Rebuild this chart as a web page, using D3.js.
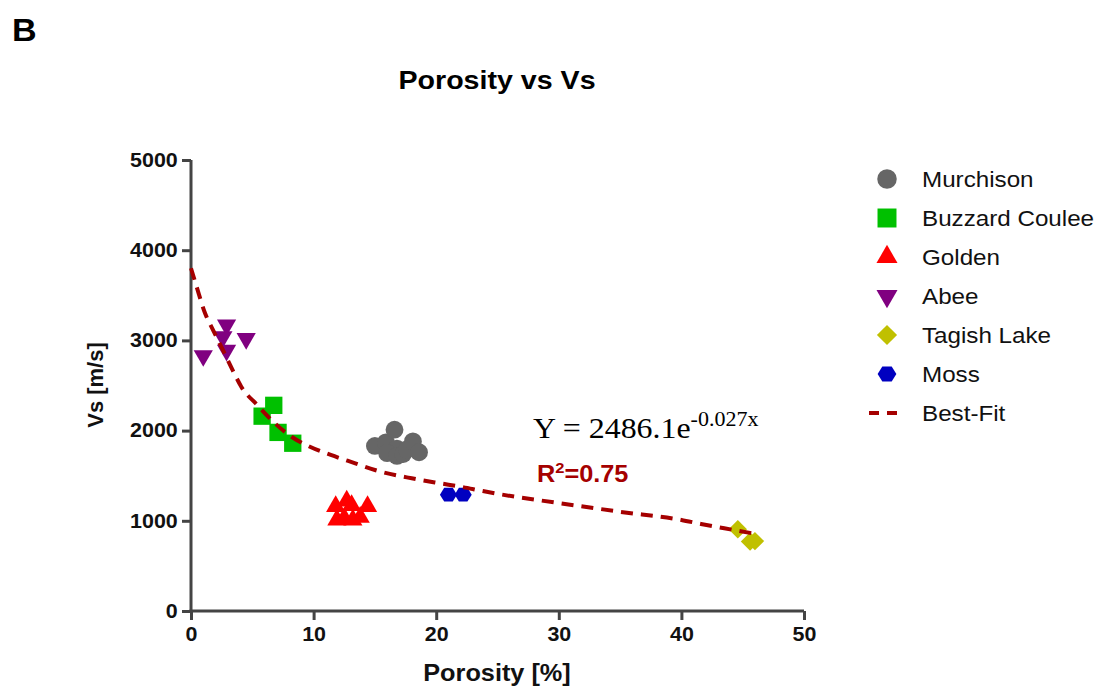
<!DOCTYPE html>
<html>
<head>
<meta charset="utf-8">
<title>Porosity vs Vs</title>
<script src="https://d3js.org/d3.v7.min.js"></script>
<style>
body { margin: 0; background: #fff; }
svg text { font-family: "Liberation Sans", Arial, sans-serif; }
</style>
</head>
<body>
<div id="chart"></div>
<script>
// data: [porosity %, Vs m/s]
var murchison = [[15.0,1830],[15.9,1870],[16.6,2010],[16.8,1800],[16.0,1750],[16.8,1720],[17.3,1740],[17.6,1790],[18.1,1880],[18.6,1760]];
var buzzard = [[5.8,2160],[6.75,2280],[7.1,1980],[8.3,1860]];
var golden = [[11.8,1160],[12.7,1220],[13.1,1170],[14.4,1160],[11.9,1010],[12.5,1030],[13.2,1010],[13.8,1040]];
var abee = [[1.0,2830],[2.6,3040],[2.9,3170],[2.9,2890],[4.5,3020]];
var tagish = [[44.6,906],[45.6,770],[46.0,775]];
var moss = [[21.0,1290],[22.2,1290]];
// dashed best-fit line
var bestFit = [[0,3800],[0.46,3595],[1.14,3304],[1.8,3115],[2.6,2894],[3.46,2653],[4.1,2487],[5.4,2284],[6.7,2099],[8.2,1932],[9.7,1821],[11.4,1730],[13.4,1637],[15.0,1563],[18.0,1471],[20.3,1416],[22.0,1378],[23.8,1330],[25.1,1297],[30,1197],[35,1100],[40,1009],[41.6,965],[43.5,917],[45.8,861]];

var xTicks = [0,10,20,30,40,50];
var yTicks = [0,1000,2000,3000,4000,5000];
var seriesNames = ["Murchison","Buzzard Coulee","Golden","Abee","Tagish Lake","Moss"];

var width = 1102, height = 689;
var stretch = 1.1; // text in the picture is a bit wider than Arial
var svg = d3.select("#chart").append("svg")
    .attr("width", width)
    .attr("height", height);

var x = d3.scaleLinear().domain([0,50]).range([191, 804]);
var y = d3.scaleLinear().domain([0,5000]).range([611, 160]);

function stext(px, py, size, bold) {
  return svg.append("text")
    .attr("transform", "translate(" + px + "," + py + ") scale(" + stretch + ",1)")
    .style("font-size", size + "px")
    .style("font-weight", bold ? "bold" : "normal")
    .attr("fill", "#111");
}

// hexagon with points left and right
var hexagon = {
  draw: function(ctx, size) {
    var r = Math.sqrt(size / (1.5 * Math.sqrt(3)));
    for (var i = 0; i < 6; i++) {
      var a = Math.PI / 3 * i;
      var px = r * Math.cos(a), py = r * Math.sin(a) * 0.92;
      if (i == 0) ctx.moveTo(px, py); else ctx.lineTo(px, py);
    }
    ctx.closePath();
  }
};

var styles = [
  {data: murchison, color: "#666666", type: d3.symbolCircle, size: 250, rot: 0},
  {data: buzzard, color: "#00c000", type: d3.symbolSquare, size: 300, rot: 0},
  {data: golden, color: "#ff0000", type: d3.symbolTriangle, size: 160, rot: 0},
  {data: abee, color: "#800080", type: d3.symbolTriangle, size: 160, rot: 180},
  {data: tagish, color: "#c0c000", type: d3.symbolSquare, size: 170, rot: 45},
  {data: moss, color: "#0000c0", type: hexagon, size: 190, rot: 0}
];

// title and panel letter
stext(12, 41, 31, true).attr("fill", "#000").text("B");
stext(497, 89, 26, true).attr("fill", "#000").attr("text-anchor", "middle").text("Porosity vs Vs");

// axes
var xAxis = svg.append("g")
  .attr("transform", "translate(0,611)")
  .call(d3.axisBottom(x).tickValues(xTicks).tickFormat(d3.format("d")).tickSize(9).tickPadding(7).tickSizeOuter(0));
var yAxis = svg.append("g")
  .attr("transform", "translate(191,0)")
  .call(d3.axisLeft(y).tickValues(yTicks).tickFormat(d3.format("d")).tickSize(9).tickPadding(3).tickSizeOuter(0));

[xAxis, yAxis].forEach(function(g) {
  g.selectAll("path, line").attr("stroke", "#444").attr("stroke-width", 3);
  g.selectAll("text").attr("fill", "#111")
    .attr("transform", "scale(" + stretch + ",1)")
    .style("font-size", "19.5px").style("font-weight", "bold")
    .style("font-family", "'Liberation Sans', Arial, sans-serif");
});
xAxis.select(".domain").attr("d", "M" + (x(0) - 1.5) + ",0H" + x(50));
yAxis.select(".domain").attr("d", "M0," + y(5000) + "V" + (y(0) + 1.5));

stext(497, 681, 23, true).attr("text-anchor", "middle").text("Porosity [%]");
svg.append("text").attr("text-anchor", "middle")
  .attr("transform", "translate(103,385)rotate(-90)")
  .attr("fill", "#111")
  .style("font-size", "22px").style("font-weight", "bold").text("Vs [m/s]");

// points
styles.forEach(function(s) {
  svg.append("g").selectAll("path")
    .data(s.data)
    .enter()
    .append("path")
      .attr("d", d3.symbol().type(s.type).size(s.size))
      .attr("transform", function(d) {
        return "translate(" + x(d[0]) + "," + y(d[1]) + ") rotate(" + s.rot + ")";
      })
      .attr("fill", s.color);
});

// best-fit curve
var line = d3.line()
  .x(function(d) { return x(d[0]); })
  .y(function(d) { return y(d[1]); })
  .curve(d3.curveMonotoneX);
svg.append("path")
  .datum(bestFit)
  .attr("d", line)
  .attr("fill", "none")
  .attr("stroke", "#a50000")
  .attr("stroke-width", 4)
  .attr("stroke-dasharray", "12,8");

// equation
var eq = stext(533, 438, 29, false).attr("fill", "#000")
  .style("font-family", "'Liberation Serif', 'Times New Roman', serif");
eq.append("tspan").text("Y = 2486.1e");
eq.append("tspan").attr("dy", -12).style("font-size", "20px").text("-0.027x");

var r2 = stext(537, 482, 23, true).attr("fill", "#a50000");
r2.append("tspan").text("R");
r2.append("tspan").attr("dy", -9).style("font-size", "15px").text("2");
r2.append("tspan").attr("dy", 9).text("=0.75");

// legend
var legend = svg.append("g");
styles.forEach(function(s, i) {
  var ly = 179 + i * 39;
  legend.append("path")
    .attr("d", d3.symbol().type(s.type).size(s.size * 1.2))
    .attr("transform", "translate(887," + ly + ") rotate(" + s.rot + ")")
    .attr("fill", s.color);
  stext(922, ly + 8, 22, false).text(seriesNames[i]);
});
var ly = 179 + 6 * 39;
legend.append("line")
  .attr("x1", 869).attr("x2", 905).attr("y1", ly).attr("y2", ly)
  .attr("stroke", "#a50000").attr("stroke-width", 4).attr("stroke-dasharray", "10,8");
stext(922, ly + 8, 22, false).text("Best-Fit");
</script>
</body>
</html>
